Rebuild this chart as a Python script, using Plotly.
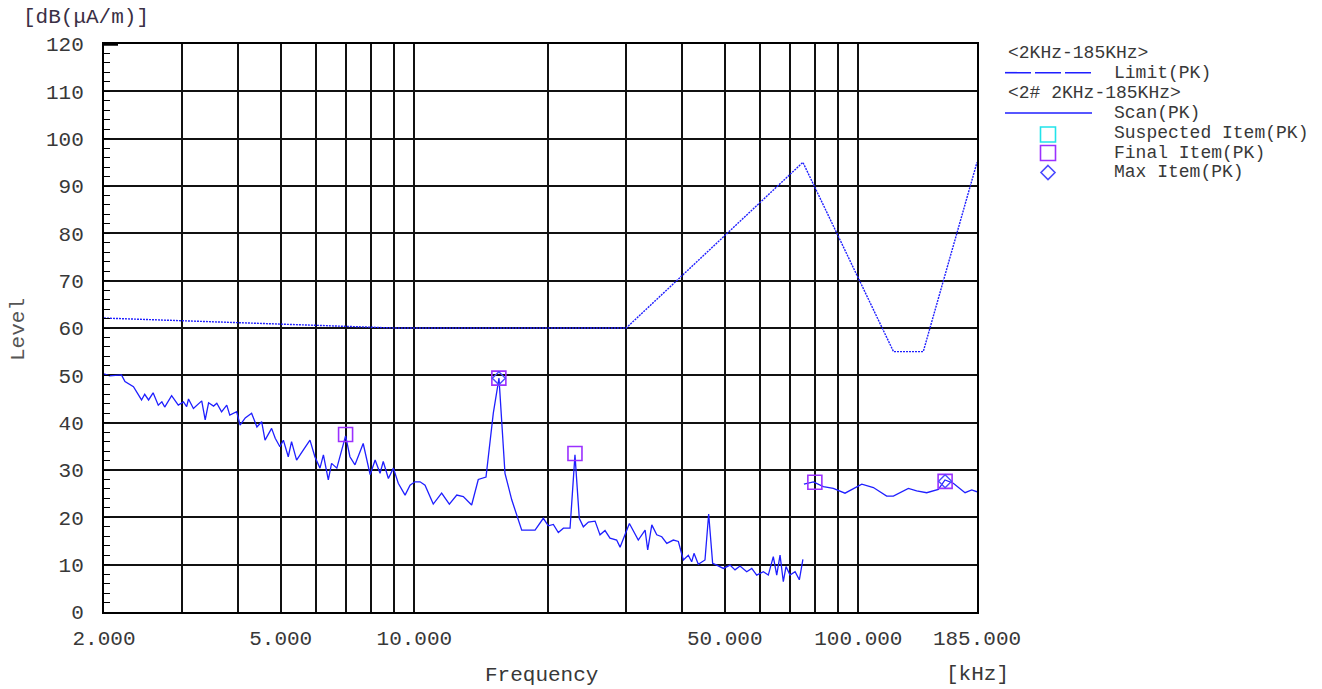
import math
import plotly.graph_objects as go

# ---------------- data ----------------
limit_freq = [2.0, 9.0, 30.0, 75.0, 120.0, 140.0, 185.0]
limit_level = [62.1, 60.0, 60.0, 95.0, 55.0, 55.0, 95.0]

scan_low_freq = [2.00, 2.06, 2.19, 2.23, 2.33, 2.43, 2.47, 2.52, 2.58, 2.65, 2.70, 2.74, 2.84, 2.94,
                 3.02, 3.07, 3.10, 3.18, 3.32, 3.38, 3.44, 3.53, 3.59, 3.68, 3.78, 3.84, 3.98, 4.05,
                 4.16, 4.30, 4.42, 4.53, 4.61, 4.77, 4.86, 4.98, 5.07, 5.20, 5.29, 5.43, 5.62, 5.82,
                 5.97, 6.13, 6.24, 6.40, 6.51, 6.69, 7.00, 7.16, 7.35, 7.67, 7.95, 8.16, 8.37, 8.51,
                 8.74, 8.97, 9.20, 9.53, 9.78, 10.03, 10.30, 10.57, 11.03, 11.52, 11.99, 12.46, 12.89,
                 13.46, 13.93, 14.50, 15.06, 15.51, 16.00, 16.57, 17.45, 18.70, 19.52, 20.03, 20.56,
                 21.10, 21.66, 22.42, 23.00, 23.52, 24.02, 24.66, 25.53, 26.19, 26.88, 27.58, 28.55,
                 29.06, 30.50, 31.94, 33.09, 33.54, 34.26, 35.15, 36.08, 37.03, 38.30, 39.32, 40.35,
                 41.40, 42.13, 42.64, 43.60, 45.14, 46.01, 46.97, 47.98, 49.65, 51.40, 52.75, 54.13,
                 56.05, 57.53, 59.02, 61.09, 62.69, 64.33, 65.48, 66.62, 67.76, 68.71, 70.16, 72.02,
                 73.63, 75.00]
scan_low_level = [50.3, 49.9, 50.1, 48.7, 47.6, 44.8, 46.0, 44.8, 46.3, 43.7, 44.4, 43.3, 45.7, 43.7,
                  44.4, 43.4, 45.0, 43.0, 44.6, 40.6, 44.2, 43.5, 44.1, 42.3, 43.7, 41.6, 42.3, 39.5,
                  41.0, 42.0, 39.1, 40.2, 36.3, 38.8, 36.7, 34.9, 36.3, 32.8, 36.0, 32.1, 34.2, 36.3,
                  32.8, 30.4, 33.2, 27.9, 31.4, 30.4, 37.2, 32.8, 31.1, 35.6, 29.0, 32.1, 29.3, 31.8,
                  28.2, 30.4, 27.2, 24.7, 26.8, 27.5, 27.5, 26.8, 22.8, 25.1, 22.8, 24.7, 24.4,
                  22.6, 28.0, 28.5, 42.0, 49.4, 29.3, 23.7, 17.3, 17.3, 19.8, 18.2, 18.5,
                  16.8, 17.7, 17.7, 33.2, 19.8, 18.0, 19.0, 19.2, 16.3, 17.2, 15.6, 15.2,
                  13.7, 18.7, 15.2, 17.3, 13.1, 18.4, 16.3, 15.9, 14.5, 15.2, 14.9, 11.0,
                  12.0, 10.6, 12.4, 10.1, 11.0, 20.7, 10.3, 9.9, 9.2, 9.9, 8.9, 9.7,
                  8.5, 9.2, 7.8, 8.5, 7.8, 11.7, 7.8, 12.0, 6.4, 9.6, 7.8, 8.5,
                  6.8, 11.1]

scan_high_freq = [75.4, 79.2, 83.4, 87.8, 93.3, 101.8, 108.1, 115.8, 119.9, 129.6, 135.3,
                  142.5, 151.4, 156.7, 163.6, 173.9, 180.0, 185.0]
scan_high_level = [27.0, 27.5, 26.5, 26.1, 25.1, 27.0, 26.3, 24.5, 24.5, 26.1, 25.6,
                   25.2, 25.9, 27.9, 27.2, 25.2, 25.8, 25.4]

final_freq = [2.0, 7.0, 15.5, 23.0, 79.8, 156.8]
final_level = [50.2, 37.5, 49.4, 33.5, 27.4, 27.6]

max_freq = [2.0, 15.5, 156.8]
max_level = [50.2, 49.4, 27.6]

x_tick_vals = [2, 3, 4, 5, 6, 7, 8, 9, 10, 20, 30, 40, 50, 60, 70, 80, 90, 100, 185]
x_tick_text = ["2.000", "", "", "5.000", "", "", "", "", "10.000", "", "", "",
               "50.000", "", "", "", "", "100.000", "185.000"]

legend_headers = ["<2KHz-185KHz>", "<2# 2KHz-185KHz>"]
legend_labels = ["Limit(PK)", "Scan(PK)", "Suspected Item(PK)", "Final Item(PK)", "Max Item(PK)"]

# ---------------- layout constants (pixels) ----------------
W, H = 1322, 689
L, R, T, B = 104, 977, 44, 612
FONT = "Liberation Mono"
TXT = "#383838"
BLUE = "#1f1fff"
PURPLE = "#9b30ff"
CYAN = "#22e3ea"
DIAMOND = "#4a4aff"


def px(x):
    return (x - L) / (R - L)


def py(y):
    return (B - y) / (B - T)


fig = go.Figure()

fig.add_trace(go.Scatter(
    x=limit_freq, y=limit_level, mode="lines",
    line=dict(color=BLUE, width=1.4, dash="2px,1px"),
    name="Limit(PK)", showlegend=False))

fig.add_trace(go.Scatter(
    x=scan_low_freq + [None] + scan_high_freq,
    y=scan_low_level + [None] + scan_high_level,
    mode="lines", line=dict(color=BLUE, width=1.3),
    name="Scan(PK)", showlegend=False, connectgaps=False))

fig.add_trace(go.Scatter(
    x=final_freq, y=final_level, mode="markers",
    marker=dict(symbol="square-open", size=14, color=PURPLE, line=dict(width=1.6, color=PURPLE)),
    name="Final Item(PK)", showlegend=False, cliponaxis=False))

fig.add_trace(go.Scatter(
    x=max_freq, y=max_level, mode="markers",
    marker=dict(symbol="diamond-open", size=10, color=DIAMOND, line=dict(width=1.4, color=DIAMOND)),
    name="Max Item(PK)", showlegend=False, cliponaxis=False))

fig.update_xaxes(
    type="log", range=[math.log10(2), math.log10(185)],
    tickmode="array", tickvals=x_tick_vals, ticktext=x_tick_text,
    showgrid=True, gridcolor="#111111", gridwidth=1.5,
    showline=True, linecolor="#000000", linewidth=2, mirror=True,
    ticks="", zeroline=False, ticklabelstandoff=6,
    tickfont=dict(family=FONT, size=21, color=TXT))

fig.update_yaxes(
    range=[0, 120], tickmode="linear", tick0=0, dtick=10,
    showgrid=True, gridcolor="#111111", gridwidth=1.5,
    showline=True, linecolor="#000000", linewidth=2, mirror=True,
    ticks="inside", ticklen=6, tickcolor="#000000", zeroline=False,
    ticklabelstandoff=14,
    minor=dict(dtick=2, ticks="inside", ticklen=6, tickcolor="#000000", tickwidth=1.2, showgrid=False),
    tickfont=dict(family=FONT, size=21, color=TXT))

shapes = []
annotations = []

# thick segment at the top of the y axis
shapes.append(dict(type="line", xref="paper", yref="paper", x0=px(103), x1=px(118), y0=py(44), y1=py(44),
                   line=dict(color="#000000", width=3.5)))

# legend samples
shapes.append(dict(type="line", xref="paper", yref="paper", x0=px(1005), x1=px(1091), y0=py(72.7), y1=py(72.7),
                   line=dict(color=BLUE, width=1.6, dash="26px,4px")))
shapes.append(dict(type="line", xref="paper", yref="paper", x0=px(1005), x1=px(1092), y0=py(113), y1=py(113),
                   line=dict(color=BLUE, width=1.6)))
shapes.append(dict(type="rect", xref="paper", yref="paper", x0=px(1040.5), x1=px(1055.5), y0=py(127), y1=py(142),
                   line=dict(color=CYAN, width=1.6)))
shapes.append(dict(type="rect", xref="paper", yref="paper", x0=px(1040.5), x1=px(1055.5), y0=py(145.5), y1=py(160.5),
                   line=dict(color=PURPLE, width=1.6)))
cx, cy, hd = 1048, 172.5, 7
shapes.append(dict(type="path", xref="paper", yref="paper",
                   path="M {a},{b} L {c},{d} L {a},{e} L {f},{d} Z".format(
                       a=px(cx), b=py(cy - hd), c=px(cx + hd), d=py(cy), e=py(cy + hd), f=px(cx - hd)),
                   line=dict(color=DIAMOND, width=1.6)))


def add_text(text, x, y, size, xanchor="left", angle=0, color=TXT):
    annotations.append(dict(text=text, x=px(x), y=py(y), xref="paper", yref="paper",
                            xanchor=xanchor, yanchor="middle", showarrow=False, textangle=angle,
                            font=dict(family=FONT, size=size, color=color)))


add_text(legend_headers[0], 1006, 53, 18)
add_text(legend_labels[0], 1112, 73, 18)
add_text(legend_headers[1], 1006, 93, 18)
add_text(legend_labels[1], 1112, 113, 18)
add_text(legend_labels[2], 1112, 133, 18)
add_text(legend_labels[3], 1112, 152.5, 18)
add_text(legend_labels[4], 1112, 172, 18)

add_text("[dB(\u03bcA/m)]", 86, 18, 21, xanchor="center", color="#3a2f45")
add_text("Level", 18, 330, 21, xanchor="center", angle=-90, color="#555555")
add_text("Frequency", 541, 675, 21, xanchor="center")
add_text("[kHz]", 977, 674, 21, xanchor="center")

fig.update_layout(
    width=W, height=H, autosize=False,
    margin=dict(l=L, r=W - R, t=T, b=H - B, pad=0),
    paper_bgcolor="#ffffff", plot_bgcolor="#ffffff",
    showlegend=False, shapes=shapes, annotations=annotations,
    font=dict(family=FONT, color=TXT))

fig.write_html("out.html", config={"displayModeBar": False},
               post_script="document.body.style.margin='0px';")
